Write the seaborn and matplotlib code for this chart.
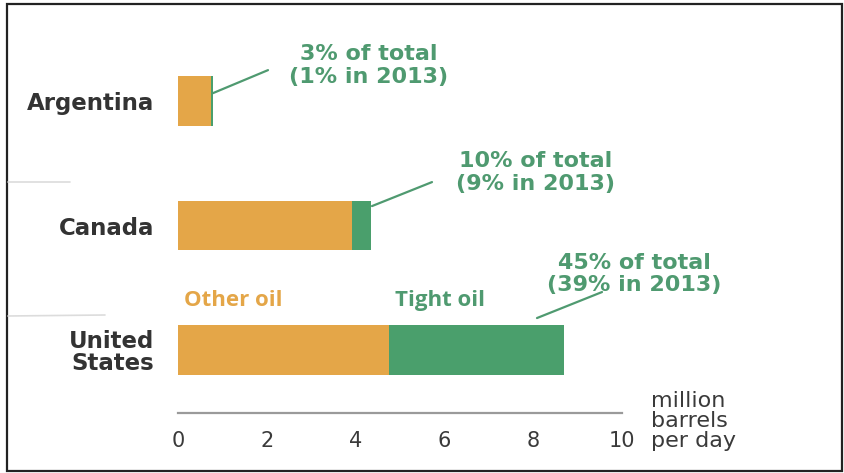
import matplotlib
matplotlib.use("Agg")
import matplotlib.pyplot as plt
from matplotlib.lines import Line2D
from matplotlib.patches import Rectangle
import seaborn as sns
import pandas as pd

# Crude oil production, million barrels per day
countries = ["Argentina", "Canada", "United\nStates"]
other_oil = [0.75, 3.93, 4.75]
tight_oil = [0.03, 0.42, 3.95]
share_labels = ["3% of total\n(1% in 2013)",
                "10% of total\n(9% in 2013)",
                "45% of total\n(39% in 2013)"]
x_ticks = [0, 2, 4, 6, 8, 10]

ORANGE = "#E4A648"
GREEN = "#4A9F6C"
TEXT_GREEN = "#4F9A70"
DARK = "#333333"

df = pd.DataFrame({"country": countries, "other": other_oil, "tight": tight_oil})
df["total"] = df["other"] + df["tight"]

W, H = 845, 473
fig = plt.figure(figsize=(W / 100, H / 100), dpi=100)
sns.set_style("white")
plt.rcParams["font.family"] = ["DejaVu Sans"]

# axes: x 0..10 spans 178..622 px; rows at ~101, 225, 350 px
ax_left, ax_right = 178, 622
ax_top, ax_bottom = 14, 413
ax = fig.add_axes([ax_left / W, 1 - ax_bottom / H,
                   (ax_right - ax_left) / W, (ax_bottom - ax_top) / H])

sns.barplot(data=df, x="total", y="country", color=GREEN, width=0.4,
            orient="h", ax=ax, saturation=1, edgecolor="none")
sns.barplot(data=df, x="other", y="country", color=ORANGE, width=0.4,
            orient="h", ax=ax, saturation=1, edgecolor="none")

ax.set_xlim(0, 10)
ax.set_ylim(2.506, -0.7)
ax.set_xlabel("")
ax.set_ylabel("")
for s in ["top", "right", "left"]:
    ax.spines[s].set_visible(False)
ax.spines["bottom"].set_color("#9a9a9a")
ax.spines["bottom"].set_linewidth(1.6)

ax.set_xticks(x_ticks)
ax.set_xticklabels([str(t) for t in x_ticks], fontsize=15, color="#3a3a3a")
ax.tick_params(axis="x", direction="in", length=4, width=1.2, color="#9a9a9a", pad=13)

ax.set_yticks(range(len(countries)))
ax.set_yticklabels(countries, fontsize=16.5, fontweight="bold", color=DARK,
                   multialignment="right", linespacing=0.95)
ax.tick_params(axis="y", length=0, pad=17)


def px(x, y):
    """Convert pixel position in the figure to data coordinates."""
    return ((x - ax_left) / (ax_right - ax_left) * 10,
            (y - 101) / 124.5)


# share annotations with leader lines
label_pos = [(369, 65), (536, 172), (634, 274)]
line_ends = [((213, 93), (268, 70)), ((372, 206), (432, 182)), ((537, 318), (602, 292))]
for text, (tx, ty), (p0, p1) in zip(share_labels, label_pos, line_ends):
    x0, y0 = px(*p0)
    x1, y1 = px(*p1)
    ax.add_line(Line2D([x0, x1], [y0, y1], color=TEXT_GREEN, lw=1.6, clip_on=False))
    lx, ly = px(tx, ty)
    ax.text(lx, ly, text, ha="center", va="center", fontsize=16,
            fontweight="bold", color=TEXT_GREEN, linespacing=1.18, clip_on=False)

# series labels
ox, oy = px(184, 300)
ax.text(ox, oy, "Other oil", ha="left", va="center", fontsize=16,
        fontweight="bold", family="Open Sans", color=ORANGE)
tx_, ty_ = px(395, 300)
ax.text(tx_, ty_, "Tight oil", ha="left", va="center", fontsize=16,
        fontweight="bold", family="Open Sans", color=TEXT_GREEN)

# unit label
fig.text(651 / W, 1 - 421 / H, "million\nbarrels\nper day", ha="left", va="center",
         fontsize=16, color="#3a3a3a", linespacing=1.0)

# faint rule marks at the left edge and the outer frame
fig.add_artist(Line2D([8 / W, 70 / W], [1 - 182 / H, 1 - 182 / H],
                      color="#dcdcdc", lw=1.2))
fig.add_artist(Line2D([8 / W, 105 / W], [1 - 316 / H, 1 - 315 / H],
                      color="#dcdcdc", lw=1.2))
fig.add_artist(Rectangle((7 / W, 2 / H), 835 / W, 467 / H, transform=fig.transFigure,
                         fill=False, edgecolor="#222222", lw=1.6))

fig.savefig("out.png", dpi=100)
